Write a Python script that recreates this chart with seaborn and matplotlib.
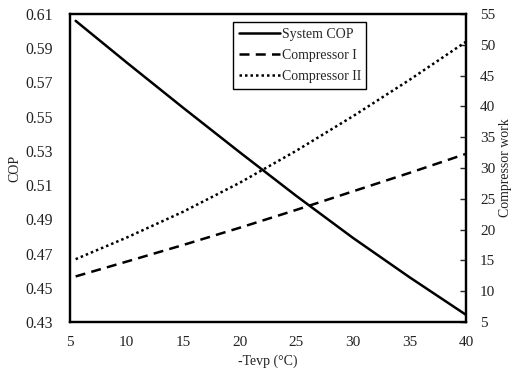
import matplotlib
matplotlib.use("Agg")
import matplotlib.pyplot as plt
import seaborn as sns
import pandas as pd

# Data
tevp = [5.5, 10, 15, 20, 25, 30, 35, 40]
system_cop = [0.606, 0.5817, 0.5552, 0.5292, 0.5037, 0.4792, 0.4562, 0.4342]
compressor_1 = [12.4, 14.8, 17.5, 20.3, 23.2, 26.2, 29.2, 32.3]
compressor_2 = [15.2, 18.7, 22.9, 27.6, 32.8, 38.4, 44.3, 50.5]

df = pd.DataFrame({"Tevp": tevp, "COP": system_cop,
                   "C1": compressor_1, "C2": compressor_2})

sns.set_style("white")
plt.rcParams['font.family'] = ['Liberation Serif', 'DejaVu Serif']

fig = plt.figure(figsize=(5.13, 3.74), dpi=100)
ax = fig.add_axes([70/513, 52/374, 396/513, 308/374])
ax2 = ax.twinx()

lw = 1.8
sns.lineplot(data=df, x="Tevp", y="COP", ax=ax, color="black", lw=lw,
             label="System COP", legend=False)
sns.lineplot(data=df, x="Tevp", y="C1", ax=ax2, color="black", lw=lw,
             linestyle=(0, (4, 2.5)), label="Compressor I", legend=False)
sns.lineplot(data=df, x="Tevp", y="C2", ax=ax2, color="black", lw=lw,
             linestyle=(0, (1, 1.2)), label="Compressor II", legend=False)

ax.set_xlim(5, 40)
ax.set_ylim(0.43, 0.61)
ax2.set_ylim(5, 55)
ax.set_xticks([5, 10, 15, 20, 25, 30, 35, 40])
ax.set_yticks([0.43, 0.45, 0.47, 0.49, 0.51, 0.53, 0.55, 0.57, 0.59, 0.61])
ax.set_yticklabels(["0.43", "0.45", "0.47", "0.49", "0.51", "0.53",
                    "0.55", "0.57", "0.59", "0.61"])
ax2.set_yticks([5, 10, 15, 20, 25, 30, 35, 40, 45, 50, 55])

ax.tick_params(axis="x", direction="in", length=4, width=1, labelsize=11,
               colors="#333333", labelcolor="#222222", pad=10)
ax.tick_params(axis="y", direction="in", length=0, labelsize=11.3,
               labelcolor="#222222", pad=12)
ax2.tick_params(axis="y", direction="in", length=4, width=1, labelsize=11,
                labelcolor="#222222", pad=10)

ax.set_xlabel("-Tevp (°C)", fontsize=10, color="#222222", labelpad=4)
ax.set_ylabel("COP", fontsize=10, color="#222222", labelpad=3)
ax2.set_ylabel("Compressor work", fontsize=10, color="#222222", labelpad=3)

for a in (ax, ax2):
    for s in a.spines.values():
        s.set_visible(True)
        s.set_color("black")
        s.set_linewidth(1.6)

h1, l1 = ax.get_legend_handles_labels()
h2, l2 = ax2.get_legend_handles_labels()
leg = ax2.legend(h1 + h2, l1 + l2, loc="upper left",
                 bbox_to_anchor=((233 - 70) / 396, (322 - 22) / 308),
                 fontsize=10, frameon=True, fancybox=False, framealpha=1,
                 edgecolor="black", handlelength=3.0, handletextpad=0.1,
                 borderpad=0.4, labelspacing=0.6, borderaxespad=0)
leg.get_frame().set_linewidth(1.0)

fig.savefig("out.png", dpi=100)
